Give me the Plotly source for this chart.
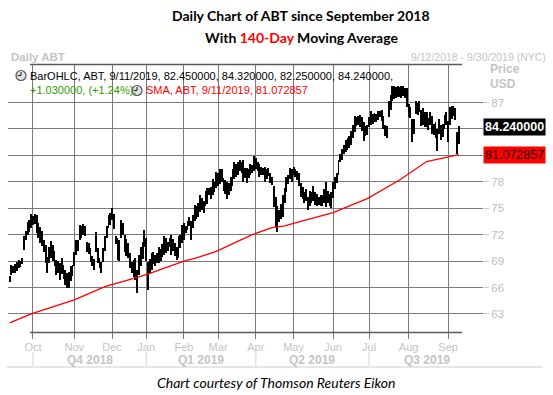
import pandas as pd
import plotly.graph_objects as go

# ---------------- data ----------------
start_date = "2018-09-12"
axis_end_date = "2019-09-30"
holidays = ["2018-11-22", "2018-12-05", "2018-12-25", "2019-01-01", "2019-01-21",
            "2019-02-18", "2019-04-19", "2019-05-27", "2019-07-04", "2019-09-02"]

month_labels = ["Oct", "Nov", "Dec", "Jan", "Feb", "Mar", "Apr", "May", "Jun", "Jul", "Aug", "Sep"]
quarter_labels = ["Q4 2018", "Q1 2019", "Q2 2019", "Q3 2019"]
price_ticks = [63, 66, 69, 72, 75, 78, 81, 84, 87]
# 84 and 81 are hidden behind the last-value boxes in the reference
price_tick_text = ["63", "66", "69", "72", "75", "78", "", "", "87"]

# daily lows / highs, Sep 12 2018 .. Sep 11 2019
lows = [
    66.6, 67.4, 67.6, 67.7, 67.9, 68.2, 68.3, 68.7, 70.3, 71.4,
    72.0, 72.3, 72.8, 73.1, 73.2, 72.2, 71.6, 71.1, 70.7, 70.0,
    68.8, 67.7, 68.8, 69.3, 69.0, 68.5, 67.4, 67.6, 66.9, 67.5,
    67.0, 66.3, 65.9, 66.0, 66.7, 67.3, 68.4, 69.7, 70.2, 71.4,
    71.6, 72.0, 71.8, 70.0, 69.8, 68.9, 68.4, 68.0, 70.0, 68.8,
    68.2, 67.6, 68.9, 70.2, 71.6, 72.8, 73.1, 73.7, 72.6, 70.9,
    69.1, 69.0, 71.6, 72.0, 70.0, 69.6, 69.4, 68.2, 67.7, 67.2,
    66.9, 65.4, 67.4, 68.5, 69.2, 70.6, 69.0, 65.7, 67.7, 68.0,
    68.7, 68.4, 68.8, 68.8, 69.0, 69.5, 69.7, 69.9, 70.1, 70.6,
    69.7, 70.2, 69.6, 69.1, 69.4, 70.5, 71.1, 71.4, 72.2, 72.5,
    73.0, 71.4, 72.8, 73.5, 73.8, 74.0, 74.6, 74.8, 74.5, 75.2,
    75.5, 76.5, 76.0, 76.5, 76.8, 77.3, 77.5, 77.7, 78.0, 77.0,
    76.6, 76.0, 76.5, 77.0, 77.5, 78.3, 78.6, 78.8, 79.2, 79.0,
    78.0, 78.4, 77.9, 78.4, 78.8, 79.0, 79.2, 79.5, 79.2, 78.5,
    78.8, 78.8, 78.0, 78.3, 78.7, 77.9, 77.6, 75.1, 72.9, 72.3,
    73.4, 73.8, 74.0, 75.6, 76.8, 77.7, 78.3, 78.0, 78.8, 78.5,
    78.2, 77.5, 76.3, 76.0, 75.6, 75.8, 74.8, 75.3, 75.6, 75.8,
    75.4, 75.2, 75.4, 75.2, 75.2, 75.6, 75.1, 75.6, 75.3, 75.0,
    76.2, 77.2, 77.9, 78.8, 80.2, 80.5, 81.1, 81.4, 81.6, 81.8,
    82.2, 83.0, 83.6, 84.3, 84.5, 84.2, 83.8, 82.6, 83.2, 83.3,
    84.2, 84.5, 84.6, 84.8, 84.8, 85.0, 85.3, 84.9, 84.0, 83.2,
    83.0, 85.3, 86.2, 87.2, 87.4, 87.5, 87.6, 87.6, 87.5, 87.7,
    87.5, 86.5, 85.3, 85.2, 82.5, 83.4, 85.7, 85.6, 85.9, 84.3,
    84.5, 84.2, 84.2, 83.9, 84.5, 83.4, 83.3, 83.0, 81.5, 83.4,
    82.8, 83.1, 84.0, 84.5, 82.5, 84.5, 85.1, 85.5, 85.0, 81.1,
    82.25,
]
highs = [
    67.3, 68.6, 68.5, 68.7, 68.9, 69.1, 69.0, 69.4, 71.9, 72.4,
    73.4, 73.7, 74.3, 74.1, 74.3, 74.2, 73.3, 72.9, 72.4, 71.4,
    70.8, 69.5, 70.6, 71.3, 70.8, 70.2, 69.1, 69.0, 68.8, 69.4,
    68.6, 68.0, 67.6, 67.8, 68.4, 68.6, 70.0, 71.4, 71.4, 73.1,
    73.0, 73.2, 73.0, 71.2, 71.0, 70.5, 69.6, 69.2, 72.3, 70.5,
    69.4, 68.9, 70.5, 71.8, 73.0, 74.2, 74.5, 75.0, 74.3, 71.8,
    71.6, 71.4, 73.7, 73.3, 72.0, 71.5, 71.1, 69.9, 68.9, 69.1,
    69.4, 68.0, 69.7, 70.6, 71.2, 72.5, 71.6, 68.9, 69.2, 69.9,
    70.0, 69.7, 69.9, 70.6, 70.4, 70.9, 71.8, 71.6, 71.2, 71.6,
    72.0, 71.5, 71.0, 70.6, 71.8, 72.0, 73.1, 73.3, 73.0, 73.6,
    74.0, 73.5, 74.2, 75.4, 75.2, 75.6, 76.5, 76.2, 75.8, 77.0,
    77.3, 77.3, 77.4, 78.3, 78.0, 79.1, 79.0, 79.4, 79.4, 78.4,
    78.2, 78.0, 77.9, 78.6, 79.4, 80.2, 80.0, 80.3, 80.5, 80.2,
    80.5, 79.6, 79.6, 79.5, 80.0, 79.9, 80.9, 80.7, 80.3, 80.0,
    79.7, 79.6, 79.7, 79.5, 79.6, 79.0, 78.6, 77.5, 76.3, 75.2,
    74.8, 75.5, 76.5, 77.3, 78.5, 78.8, 79.6, 79.5, 79.7, 79.4,
    79.2, 79.0, 77.9, 77.4, 76.8, 77.2, 76.3, 77.0, 76.8, 77.5,
    76.8, 76.6, 76.3, 76.5, 76.5, 77.2, 78.0, 77.0, 76.6, 76.8,
    78.0, 78.6, 79.0, 80.5, 81.1, 81.7, 82.2, 82.8, 83.0, 83.2,
    83.8, 84.4, 85.5, 85.4, 85.5, 85.6, 85.4, 84.8, 84.3, 84.5,
    85.3, 86.0, 85.7, 85.8, 85.7, 86.0, 86.0, 86.1, 85.5, 84.5,
    84.3, 87.2, 87.9, 88.9, 88.9, 88.8, 88.9, 88.8, 88.9, 88.9,
    88.7, 88.7, 86.8, 86.5, 85.1, 85.1, 87.2, 87.0, 87.2, 86.2,
    86.4, 85.9, 85.9, 85.2, 85.9, 85.5, 84.6, 84.8, 84.0, 85.1,
    84.5, 84.6, 85.6, 85.9, 84.9, 86.5, 86.6, 86.6, 86.4, 83.6,
    84.32,
]

# 140-day SMA read at selected trading-day indices
sma_idx = [0, 12, 36, 48, 53, 72, 78, 97, 103, 115, 135, 146, 153, 162, 180, 199, 217, 232, 250]
sma_val = [62.0, 63.0, 64.6, 65.7, 66.1, 67.2, 67.6, 69.0, 69.3, 70.1, 72.0, 72.8, 73.0, 73.5,
           74.5, 76.1, 78.2, 80.3, 81.072857]

last_date = "9/11/2019"
last_open, last_high, last_low, last_close = 82.45, 84.32, 82.25, 84.24
last_change, last_change_pct = 1.03, 1.24
last_sma = 81.072857

# ---------------- layout helpers ----------------
W, H = 553, 395
PL, PR, PT, PB = 8, 483, 64, 339  # plot area in pixels


def pxx(px):
    return (px - PL) / (PR - PL)


def pxy(py):
    return (PB - py) / (PB - PT)


days = pd.bdate_range(start_date, axis_end_date)
days = days[~days.isin(pd.to_datetime(holidays))]
n = len(lows)
xs = list(range(n))

month_pos = [i for i in range(1, len(days)) if days[i].month != days[i - 1].month]
q_starts = [p for p in month_pos if days[p].month in (1, 4, 7, 10)]
q_ends = q_starts[1:] + [len(days)]
q_centers = [(a + b) / 2 for a, b in zip(q_starts, q_ends)]

x_lo, x_hi = -0.9, len(days) - 1 + 0.4
y_lo, y_hi = 60.16, 91.37

FONT = "Liberation Sans"
GRID = "#7a7a7a"
LIGHT = "#c4c4c4"

fig = go.Figure()
fig.add_trace(go.Bar(
    x=xs, y=[h - l for h, l in zip(highs, lows)], base=lows,
    width=0.5, marker=dict(color="black", line=dict(width=0)),
    hoverinfo="skip",
))
fig.add_trace(go.Scatter(
    x=sma_idx, y=sma_val, mode="lines",
    line=dict(color="#ff0000", width=1.3), hoverinfo="skip",
))

shapes = []
# top and bottom frame lines
shapes.append(dict(type="line", xref="paper", yref="paper", x0=pxx(30), x1=pxx(462),
                   y0=pxy(64.5), y1=pxy(64.5), line=dict(color="#5a5a5a", width=1.5)))
shapes.append(dict(type="line", xref="paper", yref="paper", x0=pxx(30), x1=pxx(462),
                   y0=pxy(332.5), y1=pxy(332.5), line=dict(color="#5a5a5a", width=1.5)))
# quarter separators
for qs in q_starts:
    shapes.append(dict(type="line", xref="x", yref="paper", x0=qs, x1=qs,
                       y0=pxy(352), y1=pxy(366), line=dict(color="#d4d4d4", width=1)))
# bottom light rule
shapes.append(dict(type="line", xref="paper", yref="paper", x0=pxx(7), x1=pxx(543),
                   y0=pxy(367), y1=pxy(367), line=dict(color="#e6e6e6", width=2)))


def clock(cx, cy, r=5):
    shapes.append(dict(type="circle", xref="paper", yref="paper",
                       x0=pxx(cx - r), x1=pxx(cx + r), y0=pxy(cy + r), y1=pxy(cy - r),
                       fillcolor="#e4e4e4", line=dict(color="#555555", width=1.2)))
    shapes.append(dict(type="line", xref="paper", yref="paper", x0=pxx(cx), x1=pxx(cx),
                       y0=pxy(cy), y1=pxy(cy - r + 1.5), line=dict(color="#333333", width=1.2)))
    shapes.append(dict(type="line", xref="paper", yref="paper", x0=pxx(cx), x1=pxx(cx - r + 1.5),
                       y0=pxy(cy), y1=pxy(cy), line=dict(color="#333333", width=1.2)))


clock(21, 75.5)
clock(137, 90.5)

ann = []


def text(t, px, py, size=11, color="black", anchor="left", family=FONT, **kw):
    ann.append(dict(text=t, xref="paper", yref="paper", x=pxx(px), y=pxy(py),
                    xanchor=anchor, yanchor="middle", showarrow=False,
                    font=dict(size=size, color=color, family=family), **kw))


TFONT = "Lato"
text("<b>Daily Chart of ABT since September 2018</b>", 301, 16, size=14, anchor="center", family=TFONT)
text("<b>With <span style='color:#ff0000'>140-Day</span> Moving Average</b>", 301, 37.5,
     size=14, anchor="center", family=TFONT)
text("<b>Daily ABT</b>", 9, 57, size=11.5, color=LIGHT)
text(f"{start_date[5:7].lstrip('0')}/{start_date[8:]}/{start_date[:4]} - "
     f"{axis_end_date[5:7].lstrip('0')}/{axis_end_date[8:]}/{axis_end_date[:4]} (NYC)",
     548, 57, size=10.5, color=LIGHT, anchor="right")
text(f"BarOHLC, ABT, {last_date}, {last_open:.6f}, {last_high:.6f}, {last_low:.6f}, {last_close:.6f},",
     28, 75.5, size=11)
text(f"+{last_change:.6f}, (+{last_change_pct:.2f}%),", 28, 90.5, size=11, color="#2f9a00")
text(f"SMA, ABT, {last_date}, {last_sma:.6f}", 144, 90.5, size=11, color="#ff0000")
text("<b>Price</b>", 488, 69, size=12, color=LIGHT)
text("<b>USD</b>", 488, 83.5, size=12, color=LIGHT)
text("<i>Chart courtesy of Thomson Reuters Eikon</i>", 276, 382, size=14, anchor="center", family=TFONT)

for lab, qc in zip(quarter_labels, q_centers):
    ann.append(dict(text=f"<b>{lab}</b>", xref="x", yref="paper", x=qc, y=pxy(360),
                    xanchor="center", yanchor="middle", showarrow=False,
                    font=dict(size=12, color=LIGHT, family=FONT)))

# value boxes on the price scale
ann.append(dict(text=f"<b>{last_close:.6f}</b>", xref="paper", yref="y", x=1.0, y=last_close,
                xanchor="left", yanchor="middle", showarrow=False, bgcolor="black",
                borderpad=1, font=dict(size=12.5, color="white", family=FONT)))
ann.append(dict(text=f"{last_sma:.6f}", xref="paper", yref="y", x=1.0, y=last_sma,
                xanchor="left", yanchor="middle", showarrow=False, bgcolor="#ff0000",
                borderpad=1, font=dict(size=12.5, color="#200000", family=FONT)))

fig.update_layout(
    width=W, height=H,
    margin=dict(l=PL, r=W - PR, t=PT, b=H - PB, pad=0, autoexpand=False),
    paper_bgcolor="white", plot_bgcolor="white",
    showlegend=False, bargap=0,
    shapes=shapes, annotations=ann,
    xaxis=dict(range=[x_lo, x_hi], tickvals=month_pos, ticktext=month_labels,
               showgrid=True, gridcolor=GRID, gridwidth=1, zeroline=False, showline=False,
               ticks="", tickfont=dict(size=11, color=LIGHT, family=FONT)),
    yaxis=dict(range=[y_lo, y_hi], tickvals=price_ticks, ticktext=price_tick_text,
               side="right", showgrid=True, gridcolor=GRID, gridwidth=1, zeroline=False,
               showline=False, ticks="outside", ticklen=5, tickcolor="#cccccc",
               tickfont=dict(size=11.5, color="#bdbdbd", family=FONT)),
)

fig.write_html("out.html", config={"displayModeBar": False},
               post_script="document.body.style.margin='0';")
